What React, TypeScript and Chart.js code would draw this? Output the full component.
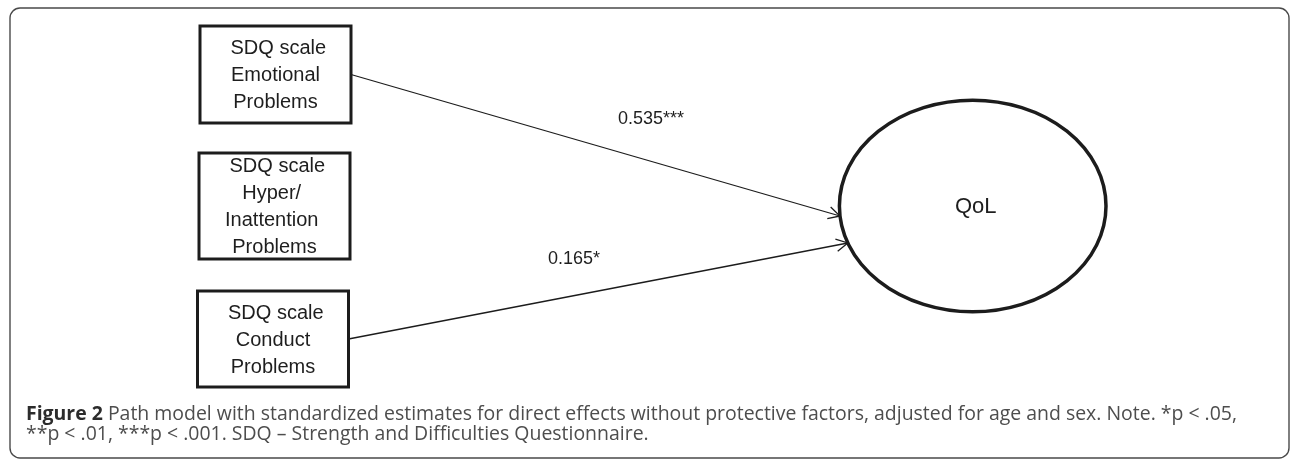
import React, { useEffect, useRef } from 'react';
import { Chart, registerables } from 'chart.js';

Chart.register(...registerables);

// ---- content ----
const predictorLines: string[][] = [
  [' SDQ scale', 'Emotional', 'Problems'],
  [' SDQ scale', 'Hyper/ ', 'Inattention ', 'Problems'],
  [' SDQ scale', 'Conduct', 'Problems'],
];
const outcomeLabel = 'QoL';
const pathFrom = [0, 2];
const pathCoefficients = ['0.535', '0.165'];
const pathStars = ['***', '*'];
const captionBold = 'Figure 2';
const captionLine1 =
  ' Path model with standardized estimates for direct effects without protective factors, adjusted for age and sex. Note. *p < .05,';
const captionLine2 = '**p < .01, ***p < .001. SDQ \u2013 Strength and Difficulties Questionnaire.';

// ---- layout (diagram units, mapped through the chart scales) ----
const boxLeft = [200, 199, 197.5];
const boxRight = [351, 350, 348.5];
const boxTop = [26, 153, 291];
const boxBottom = [123, 259, 387];
const ellipseCx = 972.7;
const ellipseCy = 206;
const ellipseRx = 133.3;
const ellipseRy = 105.8;
const pathEntryOffset = [10, 37];
const labelX = [618, 548];
const labelY = [119, 259];

const W = 1292;
const H = 460;

function arrowData(i: number) {
  const b = pathFrom[i];
  const sx = boxRight[b];
  const sy = (boxTop[b] + boxBottom[b]) / 2;
  const dy = pathEntryOffset[i];
  const ex = ellipseCx - ellipseRx * Math.sqrt(1 - (dy / ellipseRy) ** 2);
  const ey = ellipseCy + dy;
  return [
    { x: sx, y: sy },
    { x: ex, y: ey },
  ];
}

const diagramPlugin = {
  id: 'pathDiagram',
  afterDatasetsDraw(chart: any) {
    const ctx: CanvasRenderingContext2D = chart.ctx;
    const xs = chart.scales.x;
    const ys = chart.scales.y;
    const px = (v: number) => xs.getPixelForValue(v);
    const py = (v: number) => ys.getPixelForValue(v);
    ctx.save();

    // outer frame
    ctx.strokeStyle = '#4a4a4a';
    ctx.lineWidth = 1.4;
    ctx.beginPath();
    (ctx as any).roundRect(px(10), py(8), px(1289) - px(10), py(458) - py(8), 10);
    ctx.stroke();

    // boxes
    const boxFont = '20px "Liberation Sans", Arial, sans-serif';
    for (let i = 0; i < predictorLines.length; i++) {
      const l = px(boxLeft[i]);
      const r = px(boxRight[i]);
      const t = py(boxTop[i]);
      const b = py(boxBottom[i]);
      ctx.strokeStyle = '#1c1c1c';
      ctx.lineWidth = 3;
      ctx.strokeRect(l, t, r - l, b - t);
      ctx.fillStyle = '#1e1e1e';
      ctx.font = boxFont;
      ctx.textAlign = 'center';
      ctx.textBaseline = 'middle';
      const lines = predictorLines[i];
      const cx = (l + r) / 2;
      const cy = (t + b) / 2 + 1;
      const step = 27;
      lines.forEach((s, k) => {
        ctx.fillText(s, cx, cy + (k - (lines.length - 1) / 2) * step);
      });
    }

    // ellipse
    ctx.strokeStyle = '#1c1c1c';
    ctx.lineWidth = 3.5;
    ctx.beginPath();
    ctx.ellipse(
      px(ellipseCx),
      py(ellipseCy),
      px(ellipseCx + ellipseRx) - px(ellipseCx),
      Math.abs(py(ellipseCy + ellipseRy) - py(ellipseCy)),
      0,
      0,
      Math.PI * 2
    );
    ctx.stroke();
    ctx.fillStyle = '#1e1e1e';
    ctx.font = '22px "Liberation Sans", Arial, sans-serif';
    ctx.textAlign = 'center';
    ctx.textBaseline = 'middle';
    ctx.fillText(outcomeLabel, px(ellipseCx + 3), py(ellipseCy + 1));

    // arrowheads
    chart.data.datasets.forEach((ds: any) => {
      const p0 = ds.data[0];
      const p1 = ds.data[1];
      const x0 = px(p0.x), y0 = py(p0.y), x1 = px(p1.x), y1 = py(p1.y);
      const ang = Math.atan2(y1 - y0, x1 - x0);
      const len = 13;
      const spread = (28 * Math.PI) / 180;
      ctx.strokeStyle = '#1c1c1c';
      ctx.lineWidth = 1.3;
      ctx.beginPath();
      ctx.moveTo(x1 - len * Math.cos(ang - spread), y1 - len * Math.sin(ang - spread));
      ctx.lineTo(x1, y1);
      ctx.lineTo(x1 - len * Math.cos(ang + spread), y1 - len * Math.sin(ang + spread));
      ctx.stroke();
    });

    // path labels
    ctx.fillStyle = '#1e1e1e';
    ctx.font = '18px "Liberation Sans", Arial, sans-serif';
    ctx.textAlign = 'left';
    ctx.textBaseline = 'middle';
    pathCoefficients.forEach((c, i) => {
      ctx.fillText(c + pathStars[i], px(labelX[i]), py(labelY[i]));
    });

    // caption
    const boldFont = 'bold 20px "Open Sans", "Noto Sans", sans-serif';
    const regFont = '20px "Open Sans", "Noto Sans", sans-serif';
    ctx.font = boldFont;
    const bw = ctx.measureText(captionBold).width;
    ctx.font = regFont;
    const rw = ctx.measureText(captionLine1).width;
    const target = 1237 - 26;
    const sx = target / (bw + rw);
    ctx.textBaseline = 'alphabetic';
    ctx.textAlign = 'left';
    ctx.save();
    ctx.translate(px(26), py(420));
    ctx.scale(sx, 1);
    ctx.font = boldFont;
    ctx.fillStyle = '#2c2c2c';
    ctx.fillText(captionBold, 0, 0);
    ctx.font = regFont;
    ctx.fillStyle = '#4d4d4d';
    ctx.fillText(captionLine1, bw, 0);
    ctx.restore();
    ctx.save();
    ctx.translate(px(26), py(439.5));
    ctx.scale(sx, 1);
    ctx.font = regFont;
    ctx.fillStyle = '#4d4d4d';
    ctx.fillText(captionLine2, 0, 0);
    ctx.restore();

    ctx.restore();
  },
};

export default function App() {
  const ref = useRef<HTMLCanvasElement | null>(null);
  useEffect(() => {
    if (!ref.current) return;
    const chart = new Chart(ref.current, {
      type: 'scatter',
      data: {
        datasets: pathCoefficients.map((c, i) => ({
          label: c + pathStars[i],
          data: arrowData(i),
          showLine: true,
          borderColor: '#1c1c1c',
          borderWidth: 1.3,
          pointRadius: 0,
          fill: false,
        })),
      },
      options: {
        animation: false,
        responsive: false,
        devicePixelRatio: 1,
        layout: { padding: 0 },
        plugins: { legend: { display: false }, tooltip: { enabled: false } },
        scales: {
          x: { type: 'linear', min: 0, max: W, display: false },
          y: { type: 'linear', min: 0, max: H, reverse: true, display: false },
        },
      },
      plugins: [diagramPlugin],
    });
    return () => chart.destroy();
  }, []);
  return (
    <div style={{ position: 'fixed', left: 0, top: 0, width: W, height: H, background: '#fff' }}>
      <canvas ref={ref} width={W} height={H} style={{ width: W, height: H, display: 'block' }} />
    </div>
  );
}
